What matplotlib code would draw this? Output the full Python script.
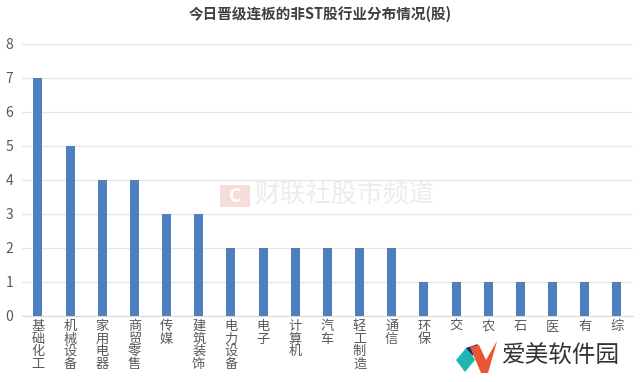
import matplotlib
matplotlib.use("Agg")
import matplotlib.pyplot as plt
from matplotlib.patches import Rectangle, Polygon

plt.rcParams['font.family'] = ['Noto Sans CJK SC', 'DejaVu Sans']

# the last six labels are cut off by the logo in the source, only first char visible
industries = ['基础化工', '机械设备', '家用电器', '商贸零售', '传媒', '建筑装饰', '电力设备',
              '电子', '计算机', '汽车', '轻工制造', '通信', '环保', '交', '农',
              '石', '医', '有', '综']
counts = [7, 5, 4, 4, 3, 3, 2, 2, 2, 2, 2, 2, 1, 1, 1, 1, 1, 1, 1]
yticks = [0, 1, 2, 3, 4, 5, 6, 7, 8]

W, H = 640, 382
fig = plt.figure(figsize=(W / 100, H / 100), dpi=100)
ax = fig.add_axes([0.034, 0.173, 0.955, 0.712])

x = list(range(len(industries)))
ax.bar(x, counts, width=0.28, color='#4f7fbd', zorder=3)

ax.set_xlim(-0.5, len(industries) - 0.5)
ax.set_ylim(0, 8)
ax.set_yticks(yticks)
ax.yaxis.grid(True, color='#e6e6e6', linewidth=0.9, zorder=0)
ax.set_xticks(x)
ax.set_xticklabels(['\n'.join(s) for s in industries], fontsize=9.5,
                   color='#595959', linespacing=0.95, va='top')
ax.tick_params(axis='y', labelsize=10, colors='#595959', length=0, pad=6)
ax.tick_params(axis='x', length=0, pad=3)
for side in ['top', 'right', 'left']:
    ax.spines[side].set_visible(False)
ax.spines['bottom'].set_color('#d9d9d9')

fig.suptitle('今日晋级连板的非ST股行业分布情况(股)', x=0.5, y=0.985,
             fontsize=10.5, fontweight='bold', color='#404040')


def px(points):
    return [(a / W, 1 - b / H) for a, b in points]


# faint background watermark
fig.patches.append(Polygon(px([(220, 185), (250, 185), (250, 207), (220, 207)]),
                           closed=True, transform=fig.transFigure,
                           facecolor='#f6dcda', edgecolor='none', zorder=1))
fig.text(235 / W, 1 - 196 / H, 'C', ha='center', va='center', fontsize=14,
         color='white', fontweight='bold', zorder=2)
fig.text(254 / W, 1 - 196 / H, '财联社股市频道', ha='left', va='center',
         fontsize=18.5, color='#ececec', zorder=1)

# logo overlay bottom right
fig.patches.append(Polygon(px([(456, 360), (467, 347), (475, 360), (465, 372)]),
                           closed=True, transform=fig.transFigure,
                           facecolor='#1fb5b0', edgecolor='none', zorder=11))
fig.patches.append(Polygon(px([(466, 348), (478, 344), (473, 356)]),
                           closed=True, transform=fig.transFigure,
                           facecolor='#1e2a5e', edgecolor='none', zorder=12))
fig.patches.append(Polygon(px([(470, 347), (479, 345), (486, 360), (497, 341),
                               (488, 373), (481, 373)]),
                           closed=True, transform=fig.transFigure,
                           facecolor='#ea5532', edgecolor='none', zorder=12))
fig.text(502 / W, 1 - 356 / H, '爱美软件园', ha='left', va='center', fontsize=17,
         color='#333333', zorder=11)

fig.savefig('out.png', dpi=100)
